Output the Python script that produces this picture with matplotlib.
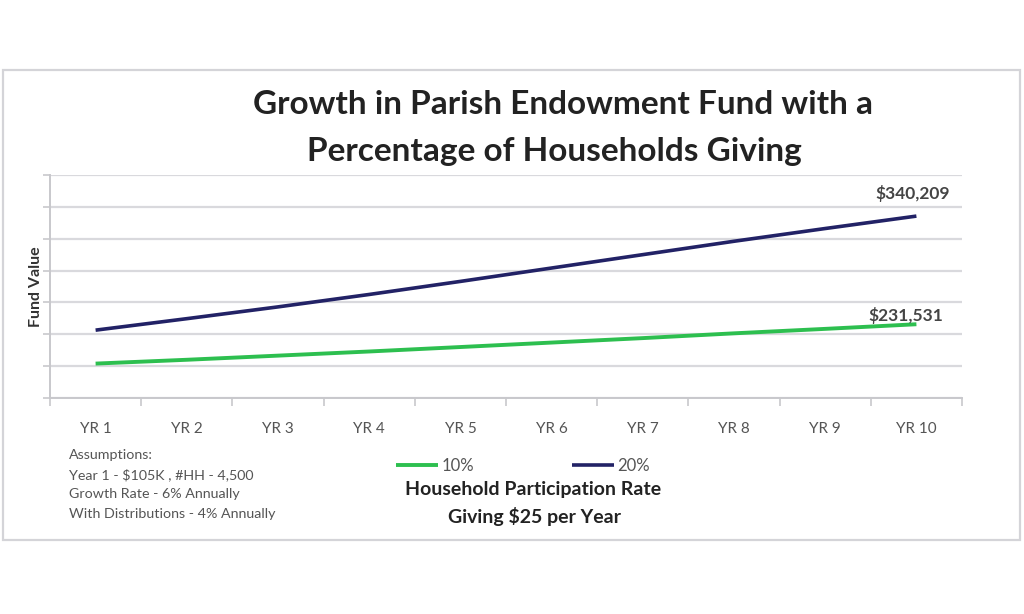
import matplotlib
matplotlib.use("Agg")
import matplotlib.pyplot as plt
from matplotlib.patches import Rectangle

years = ["YR 1", "YR 2", "YR 3", "YR 4", "YR 5", "YR 6", "YR 7", "YR 8", "YR 9", "YR 10"]
rate_10 = [108000, 120000, 133000, 146000, 160000, 174000, 188000, 203000, 217000, 231531]
rate_20 = [213000, 249000, 286000, 325000, 366000, 408000, 450000, 492000, 532000, 571000]
label_10 = "$231,531"
label_20 = "$340,209"
series_names = ["10%", "20%"]

plt.rcParams['font.family'] = ['Lato', 'DejaVu Sans']

W, H = 1024, 614
fig = plt.figure(figsize=(W / 100, H / 100), dpi=100)
fig.patch.set_facecolor("white")

# outer chart border
fig.patches.append(Rectangle((3 / W, 1 - 540 / H), 1017 / W, 470 / H, transform=fig.transFigure,
                             fill=False, edgecolor="#d4d4d8", linewidth=1.6))

ax = fig.add_axes([50 / W, 1 - 398 / H, 912 / W, 223 / H])
x = list(range(len(years)))
green = "#2dbf4f"
navy = "#222266"
ax.plot(x, rate_10, color=green, linewidth=2.8, solid_capstyle="butt", label=series_names[0], zorder=3)
ax.plot(x, rate_20, color=navy, linewidth=2.6, solid_capstyle="butt", label=series_names[1], zorder=3)

ax.set_xlim(-0.5, len(years) - 0.5)
ax.set_ylim(0, 700000)
ax.set_yticks(range(0, 700001, 100000))
ax.set_yticklabels([])
ax.tick_params(axis="y", length=5, color="#c8c8cc", width=1.2)
ax.set_xticks(x)
ax.set_xticklabels(years, fontsize=11, color="#555555")
ax.tick_params(axis="x", length=0, pad=17)
ax.set_xticks([i - 0.5 for i in range(len(years) + 1)], minor=True)
ax.tick_params(axis="x", which="minor", length=6, color="#c8c8cc", width=1.2)
ax.grid(axis="y", color="#d9d9dd", linewidth=1.6)
ax.set_axisbelow(True)
for s in ["top", "right"]:
    ax.spines[s].set_visible(False)
for s in ["left", "bottom"]:
    ax.spines[s].set_color("#c8c8cc")
    ax.spines[s].set_linewidth(1.4)

ax.set_ylabel("Fund Value", fontsize=11.5, fontweight="bold", color="#333333")
ax.yaxis.set_label_coords(-7 / 912, (398 - 287) / 223)

ax.annotate(label_20, (x[-1], rate_20[-1]), xytext=(-3, 16.5), textcoords="offset points",
            fontsize=12.5, fontweight="bold", color="#444444", ha="center", va="center")
ax.annotate(label_10, (x[-1], rate_10[-1]), xytext=(-7.5, 6), textcoords="offset points",
            fontsize=12.5, fontweight="bold", color="#444444", ha="center", va="center")

fig.text(563 / W, 1 - 105 / H, "Growth in Parish Endowment Fund with a", ha="center", va="center",
         fontsize=24, fontweight="bold", color="#222222")
fig.text(554 / W, 1 - 152 / H, "Percentage of Households Giving", ha="center", va="center",
         fontsize=24, fontweight="bold", color="#222222")

leg = fig.legend(loc="center", bbox_to_anchor=(523 / W, 1 - 466 / H), ncol=2, frameon=False,
                 fontsize=12, handlelength=2.5, columnspacing=5.9, handletextpad=0.2)
for t in leg.get_texts():
    t.set_color("#555555")

fig.text(533 / W, 1 - 490 / H, "Household Participation Rate", ha="center", va="center",
         fontsize=14, fontweight="bold", color="#222222")
fig.text(534 / W, 1 - 517 / H, "Giving $25 per Year", ha="center", va="center",
         fontsize=14, fontweight="bold", color="#222222")

assumptions = ["Assumptions:", "Year 1 - $105K , #HH - 4,500", "Growth Rate - 6% Annually",
               "With Distributions - 4% Annually"]
for i, line in enumerate(assumptions):
    fig.text(69 / W, 1 - (455 + i * 19.6) / H, line, ha="left", va="center", fontsize=10.3, color="#555555")

fig.savefig("out.png", dpi=100, facecolor="white")
